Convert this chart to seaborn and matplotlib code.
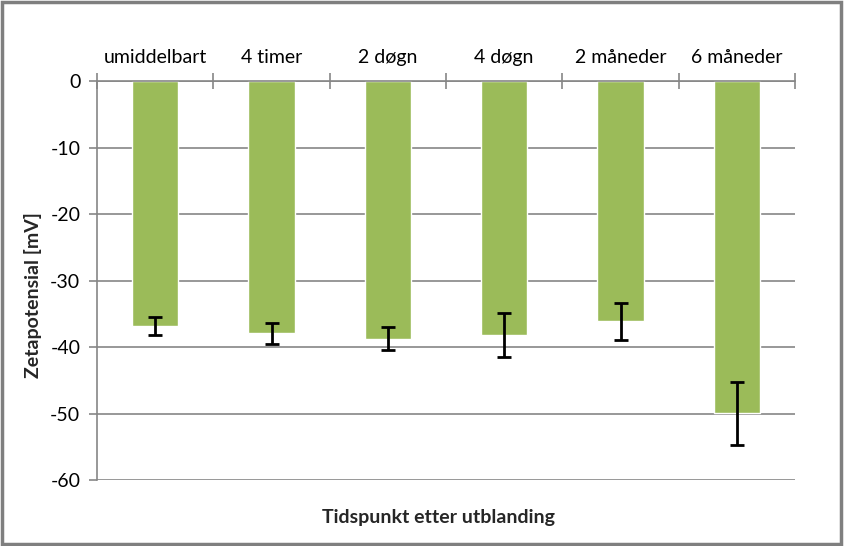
import matplotlib
matplotlib.use("Agg")
import matplotlib.pyplot as plt
import seaborn as sns
import pandas as pd
from matplotlib.patches import Rectangle

categories = ["umiddelbart", "4 timer", "2 døgn", "4 døgn", "2 måneder", "6 måneder"]
values = [-36.8, -37.9, -38.7, -38.2, -36.1, -49.9]
errors = [1.4, 1.6, 1.75, 3.3, 2.75, 4.75]
yticks = [0, -10, -20, -30, -40, -50, -60]

sns.set_theme(style="white")
plt.rcParams["font.family"] = ["Lato", "DejaVu Sans"]

df = pd.DataFrame({"cat": categories, "val": values})

FS = 14

fig = plt.figure(figsize=(8.44, 5.46), dpi=100)
ax = fig.add_axes([97/844, 1-480.3/546, (795-97)/844, (480.3-81.5)/546])

sns.barplot(data=df, x="cat", y="val", color="#9BBB59", width=0.4,
            saturation=1, errorbar=None, ax=ax, zorder=2)
ax.errorbar(range(len(categories)), values, yerr=errors, fmt="none",
            ecolor="black", elinewidth=2, capsize=5, capthick=2, zorder=3)

ax.set_ylim(-60, 0)
ax.set_xlim(-0.5, len(categories) - 0.5)
ax.set_yticks(yticks)
ax.set_yticklabels([str(t) for t in yticks], fontsize=FS, color="black")
ax.yaxis.grid(True, color="#868686", linewidth=1.2, zorder=0)
ax.set_axisbelow(True)

ax.xaxis.tick_top()
ax.set_xticks(range(len(categories)))
ax.set_xticklabels(categories, fontsize=FS, color="black")
ax.tick_params(axis="x", which="major", length=0, pad=11.5)
ax.set_xticks([i - 0.5 for i in range(len(categories) + 1)], minor=True)
ax.tick_params(axis="x", which="minor", direction="inout", length=11.5,
               color="#868686", width=1.2)
ax.tick_params(axis="y", which="major", direction="out", length=6,
               color="#868686", width=1.2, left=True, pad=6)

for s in ["right", "bottom"]:
    ax.spines[s].set_visible(False)
ax.spines["left"].set_color("#868686")
ax.spines["left"].set_linewidth(1.2)
ax.spines["top"].set_color("#868686")
ax.spines["top"].set_linewidth(1.2)

ax.set_xlabel("")
ax.set_ylabel("")
fig.text(33/844, 1-295/546, "Zetapotensial [mV]", rotation=90, fontsize=FS,
         fontweight="bold", ha="center", va="center")
fig.text(438/844, 1-518/546, "Tidspunkt etter utblanding", fontsize=FS,
         fontweight="bold", ha="center", va="center")

fig.patches.append(Rectangle((0.002, 0.003), 0.995, 0.993, transform=fig.transFigure,
                             fill=False, edgecolor="#7f7f7f", linewidth=2.5))

fig.savefig("out.png", dpi=100)
